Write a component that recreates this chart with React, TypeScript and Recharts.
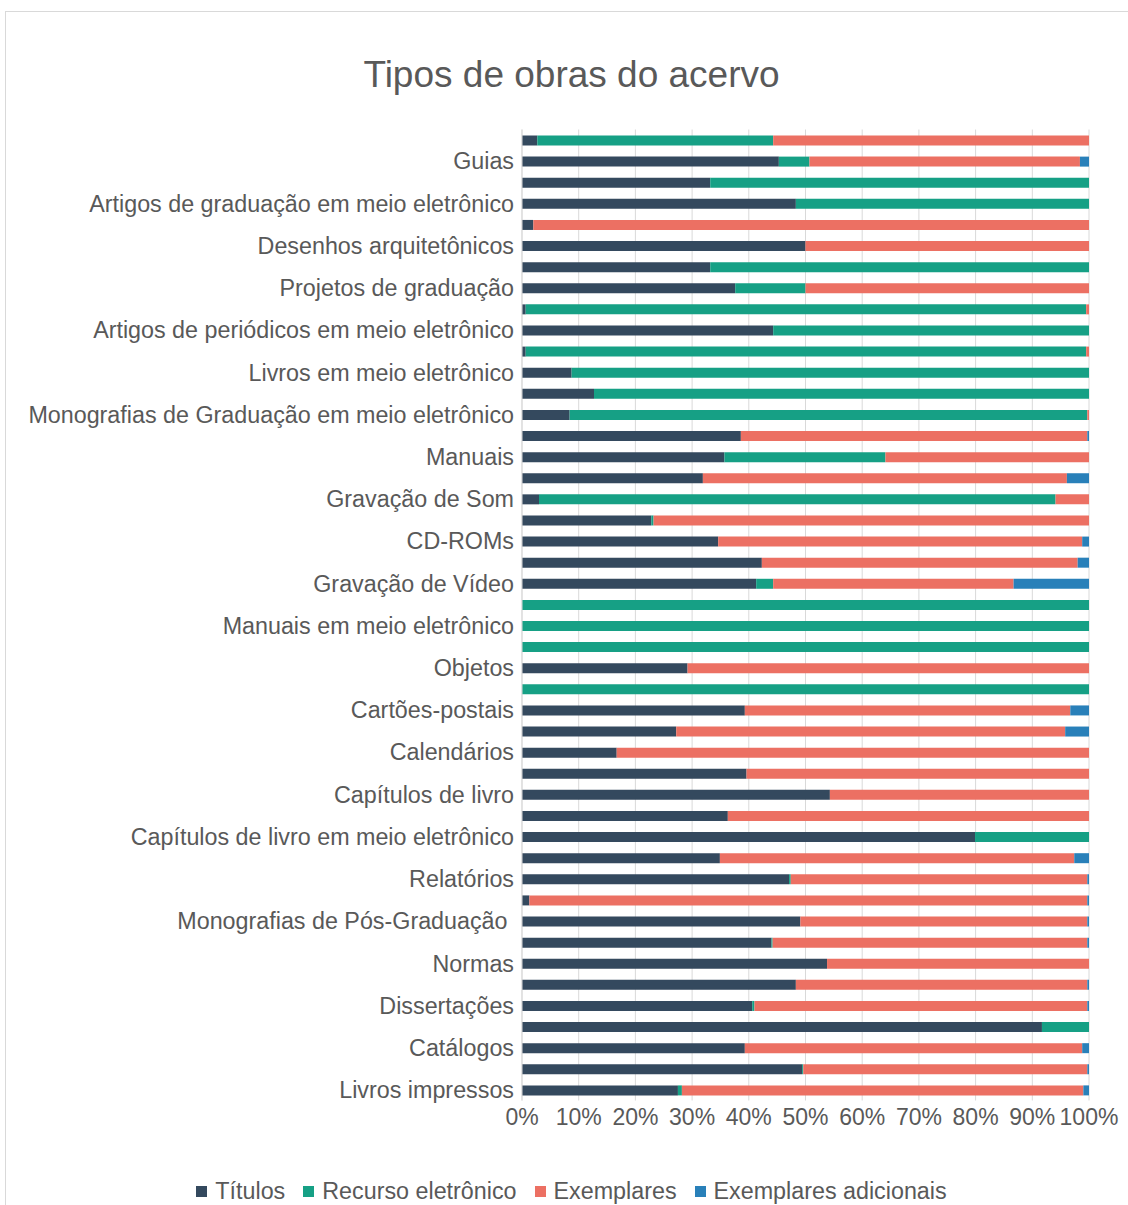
import { BarChart, Bar, XAxis, YAxis, CartesianGrid, Legend } from 'recharts'

// ordem de cima para baixo; só as linhas ímpares têm rótulo visível
const tipos = [
  'Sem rótulo 1', 'Guias',
  'Sem rótulo 2', 'Artigos de graduação em meio eletrônico',
  'Sem rótulo 3', 'Desenhos arquitetônicos',
  'Sem rótulo 4', 'Projetos de graduação',
  'Sem rótulo 5', 'Artigos de periódicos em meio eletrônico',
  'Sem rótulo 6', 'Livros em meio eletrônico',
  'Sem rótulo 7', 'Monografias de Graduação em meio eletrônico',
  'Sem rótulo 8', 'Manuais',
  'Sem rótulo 9', 'Gravação de Som',
  'Sem rótulo 10', 'CD-ROMs',
  'Sem rótulo 11', 'Gravação de Vídeo',
  'Sem rótulo 12', 'Manuais em meio eletrônico',
  'Sem rótulo 13', 'Objetos',
  'Sem rótulo 14', 'Cartões-postais',
  'Sem rótulo 15', 'Calendários',
  'Sem rótulo 16', 'Capítulos de livro',
  'Sem rótulo 17', 'Capítulos de livro em meio eletrônico',
  'Sem rótulo 18', 'Relatórios',
  'Sem rótulo 19', 'Monografias de Pós-Graduação\u00a0',
  'Sem rótulo 20', 'Normas',
  'Sem rótulo 21', 'Dissertações',
  'Sem rótulo 22', 'Catálogos',
  'Sem rótulo 23', 'Livros impressos',
]

const titulos = [2.7, 45.3, 33.2, 48.3, 2.0, 50.0, 33.2, 37.6, 0.65, 44.3, 0.65, 8.75, 12.7, 8.4, 38.6, 35.7, 31.9, 3.0, 22.8, 34.6, 42.3, 41.3, 0, 0, 0, 29.2, 0, 39.3, 27.2, 16.7, 39.6, 54.3, 36.3, 79.9, 34.9, 47.1, 1.3, 49.1, 44.0, 53.8, 48.3, 40.6, 91.7, 39.3, 49.4, 27.5]
const recurso = [41.6, 5.4, 66.8, 51.7, 0, 0, 66.8, 12.4, 98.85, 55.7, 98.85, 91.25, 87.3, 91.3, 0, 28.4, 0, 91.1, 0.4, 0, 0, 3.0, 100, 100, 100, 0, 100, 0, 0, 0, 0, 0, 0, 20.1, 0, 0.3, 0, 0, 0.2, 0, 0, 0.4, 8.3, 0, 0.2, 0.7]
const exemplares = [55.7, 47.7, 0, 0, 98, 50, 0, 50, 0.5, 0, 0.5, 0, 0, 0.3, 61.1, 35.9, 64.2, 5.9, 76.8, 64.2, 55.7, 42.4, 0, 0, 0, 70.8, 0, 57.4, 68.6, 83.3, 60.4, 45.7, 63.7, 0, 62.5, 52.3, 98.4, 50.6, 55.5, 46.2, 51.4, 58.7, 0, 59.5, 50.1, 70.8]
const adicionais = [0, 1.6, 0, 0, 0, 0, 0, 0, 0, 0, 0, 0, 0, 0, 0.3, 0, 3.9, 0, 0, 1.2, 2.0, 13.3, 0, 0, 0, 0, 0, 3.3, 4.2, 0, 0, 0, 0, 0, 2.6, 0.3, 0.3, 0.3, 0.3, 0, 0.3, 0.3, 0, 1.2, 0.3, 1.0]

const series = ['Títulos', 'Recurso eletrônico', 'Exemplares', 'Exemplares adicionais']
const marcasX = [0, 0.1, 0.2, 0.3, 0.4, 0.5, 0.6, 0.7, 0.8, 0.9, 1]

const dados = tipos.map((tipo, i) => ({
  tipo,
  titulos: titulos[i],
  recurso: recurso[i],
  exemplares: exemplares[i],
  adicionais: adicionais[i],
}))

const cinza = '#595959'

function Legenda({ payload }: { payload?: Array<{ value: string; color: string }> }) {
  if (!payload) return null
  const itens = [...payload].sort((a, b) => series.indexOf(a.value) - series.indexOf(b.value))
  return (
    <div style={{ display: 'flex', justifyContent: 'center', gap: 18, fontSize: 23.3, lineHeight: '24px', color: cinza }}>
      {itens.map((p) => (
        <span key={p.value} style={{ display: 'flex', alignItems: 'center' }}>
          <span style={{ width: 11, height: 11, background: p.color, marginRight: 8, display: 'inline-block' }} />
          {p.value}
        </span>
      ))}
    </div>
  )
}

export default function App() {
  return (
    <div style={{ position: 'absolute', left: 0, top: 0, width: 1128, height: 1205, background: '#fff', overflow: 'hidden', fontFamily: '"Liberation Sans", Arial, sans-serif' }}>
      <div style={{ position: 'absolute', left: 5, top: 11, width: 1160, height: 1220, border: '1px solid #d9d9d9' }} />
      <div style={{ position: 'absolute', left: 0, top: 57, width: 1143, textAlign: 'center', fontSize: 37, lineHeight: '36px', color: cinza }}>
        Tipos de obras do acervo
      </div>
      <div style={{ position: 'absolute', left: 0, top: 0 }}>
        <BarChart
          width={1128}
          height={1205}
          layout="vertical"
          data={dados}
          stackOffset="expand"
          margin={{ top: 129.5, right: 39, bottom: 74.5, left: 12 }}
        >
          <CartesianGrid horizontal={false} stroke="#d9d9d9" />
          <XAxis
            type="number"
            domain={[0, 1]}
            ticks={marcasX}
            tickFormatter={(v: number) => `${Math.round(v * 100)}%`}
            axisLine={false}
            tickLine={false}
            tick={{ fontSize: 23, fill: cinza }}
            interval={0}
          />
          <YAxis
            type="category"
            dataKey="tipo"
            width={510}
            interval={0}
            tickLine={false}
            axisLine={{ stroke: '#d9d9d9' }}
            tick={{ fontSize: 23.3, fill: cinza }}
            tickFormatter={(v: string, i: number) => (i % 2 === 1 ? v : '')}
          />
          <Legend verticalAlign="middle" align="center" wrapperStyle={{ top: 1179, left: 0, width: 1143 }} content={<Legenda />} />
          <Bar dataKey="titulos" name={series[0]} stackId="a" fill="#34495e" barSize={10} isAnimationActive={false} />
          <Bar dataKey="recurso" name={series[1]} stackId="a" fill="#16a085" barSize={10} isAnimationActive={false} />
          <Bar dataKey="exemplares" name={series[2]} stackId="a" fill="#ec7063" barSize={10} isAnimationActive={false} />
          <Bar dataKey="adicionais" name={series[3]} stackId="a" fill="#2980b9" barSize={10} isAnimationActive={false} />
        </BarChart>
      </div>
    </div>
  )
}
